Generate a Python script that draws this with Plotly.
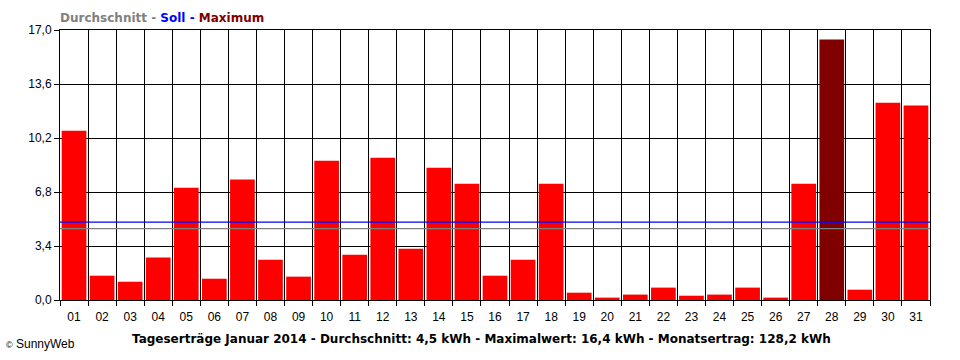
import plotly.graph_objects as go

days = [f"{d:02d}" for d in range(1, 32)]
day_pos = list(range(1, 32))
values = [10.66, 1.53, 1.15, 2.67, 7.07, 1.34, 7.58, 2.54, 1.47, 8.77,
          2.85, 8.96, 3.23, 8.33, 7.32, 1.53, 2.54, 7.32, 0.46, 0.15,
          0.34, 0.78, 0.27, 0.34, 0.78, 0.15, 7.32, 16.4, 0.65, 12.42, 12.24]
average = 4.5
target = 4.9
maximum = 16.4
month_total = 128.2
y_ticks = [0, 3.4, 6.8, 10.2, 13.6, 17.0]

bar_colors = ["#800000" if v == max(values) else "#FF0000" for v in values]

fig = go.Figure()
fig.add_trace(go.Bar(x=day_pos, y=values, marker=dict(color=bar_colors, line=dict(width=0)),
                     width=0.88, hoverinfo="x+y"))
fig.add_trace(go.Scatter(x=[0.5, 31.5], y=[average, average], mode="lines",
                         line=dict(color="#808080", width=1.2)))
fig.add_trace(go.Scatter(x=[0.5, 31.5], y=[target, target], mode="lines",
                         line=dict(color="#0000FF", width=1.2)))

font_family = "Liberation Sans, Arial, sans-serif"
bold_family = "DejaVu Sans, Verdana, sans-serif"
fig.update_layout(
    width=960, height=360,
    margin=dict(l=60, r=30, t=30, b=60),
    paper_bgcolor="white", plot_bgcolor="white",
    showlegend=False,
    separators=",.",
    font=dict(family=font_family, size=12, color="black"),
    xaxis=dict(
        range=[0.5, 31.5], tickmode="array", tickvals=day_pos, ticktext=days,
        showgrid=False, ticks="", showline=True, linecolor="black", linewidth=1,
        mirror=True, zeroline=False, ticklabelstandoff=6,
        minor=dict(tickmode="array", tickvals=[i + 0.5 for i in range(0, 32)],
                   showgrid=True, gridcolor="black", gridwidth=1,
                   ticks="outside", ticklen=5, tickcolor="black", tickwidth=1),
        tickfont=dict(size=12, color="black"),
    ),
    yaxis=dict(
        range=[0, 17], tickmode="array", tickvals=y_ticks, tickformat=".1f",
        showgrid=True, gridcolor="black", gridwidth=1,
        ticks="outside", ticklen=5, tickcolor="black",
        showline=True, linecolor="black", linewidth=1, mirror=True, zeroline=False,
        tickfont=dict(size=12, color="black"),
    ),
    annotations=[
        dict(xref="paper", yref="paper", x=0, y=1, xanchor="left", yanchor="bottom",
             xshift=-2, yshift=3, showarrow=False,
             text=("<b><span style='color:#808080'>Durchschnitt - </span>"
                   "<span style='color:#0000FF'>Soll - </span>"
                   "<span style='color:#800000'>Maximum</span></b>"),
             font=dict(size=12, family=bold_family)),
        dict(xref="paper", yref="paper", x=0.5, y=0, xanchor="center", yanchor="top",
             xshift=-14, yshift=-30, showarrow=False,
             text=(f"<b>Tageserträge Januar 2014 - Durchschnitt: {average:.1f} kWh - "
                   f"Maximalwert: {maximum:.1f} kWh - Monatsertrag: {month_total:.1f} kWh</b>"
                   ).replace(".", ","),
             font=dict(size=12, family=bold_family, color="black")),
        dict(xref="paper", yref="paper", x=-60 / 870 + 4 / 870, y=0, xanchor="left", yanchor="top",
             yshift=-35, showarrow=False, text="<span style='font-size:9px'>©</span> SunnyWeb",
             font=dict(size=12, family=font_family, color="black")),
    ],
)

fig.write_html("out.html", config={"displayModeBar": False},
               post_script="document.body.style.margin='0';document.body.style.padding='0';")
